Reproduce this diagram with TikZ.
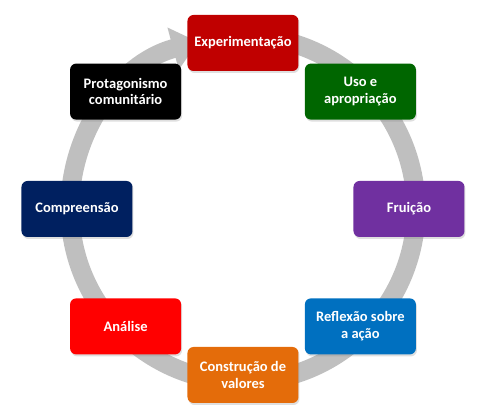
\documentclass[tikz,border=0pt]{standalone}
\usepackage{fontspec}
\setmainfont{Carlito}
\usepackage{tikz}
\usetikzlibrary{arrows.meta}
\usetikzlibrary{shadows}
\definecolor{ringgray}{HTML}{BFBFBF}
\definecolor{expred}{HTML}{C00000}
\definecolor{usogreen}{HTML}{006600}
\definecolor{fruipurple}{HTML}{7030A0}
\definecolor{reflblue}{HTML}{0070C0}
\definecolor{consorange}{HTML}{E46C0A}
\definecolor{anared}{HTML}{FF0000}
\definecolor{compnavy}{HTML}{002060}
\tikzstyle{stage} = [rectangle, rounded corners=6pt,
minimum width=111pt,
minimum height=56pt,
align=center,
text=white,
font=\fontsize{14.5}{16.5}\selectfont\bfseries,
drop shadow={shadow xshift=1pt, shadow yshift=-2pt, opacity=0.25}]
\tikzstyle{ring} = [line width=19pt, draw=ringgray, -{Triangle[width=42pt, length=26pt]}]

\begin{document}
\begin{tikzpicture} [x=1pt, y=1pt]
    \useasboundingbox (-243,-203) rectangle (237,209);

    % the cycle
    \coordinate (C) at (0,0);
    \draw [ring] (100:173) arc [start angle=100, end angle=-255, radius=173];

    % the stages
    \node (Exp) [stage, fill=expred] at (90:166) {Experimentação};
    \node (Uso) [stage, fill=usogreen] at (45:166) {Uso e\\apropriação};
    \node (Frui) [stage, fill=fruipurple] at (0:166) {Fruição};
    \node (Refl) [stage, fill=reflblue] at (-45:166) {Reflexão sobre\\a ação};
    \node (Cons) [stage, fill=consorange] at (-90:166) {Construção de\\valores};
    \node (Ana) [stage, fill=anared] at (-135:166) {Análise};
    \node (Comp) [stage, fill=compnavy] at (180:166) {Compreensão};
    \node (Prot) [stage, fill=black] at (135:166) {Protagonismo\\comunitário};

\end{tikzpicture}
\end{document}
